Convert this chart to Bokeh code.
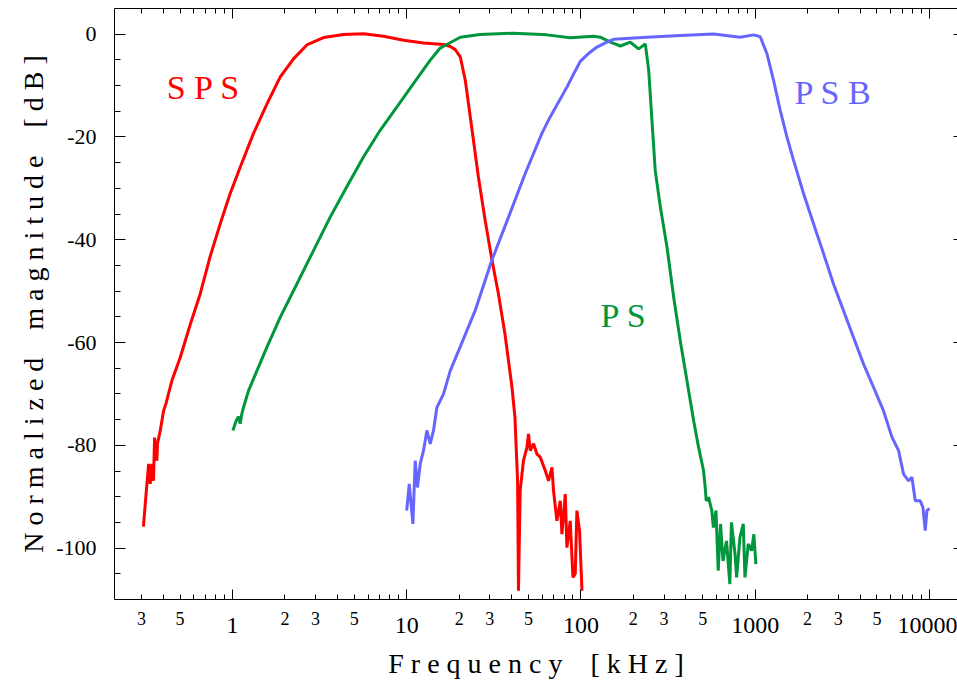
from bokeh.plotting import figure
from bokeh.models import Range1d, FixedTicker, LogAxis, LinearAxis, Label
from bokeh.embed import file_html
from bokeh.resources import INLINE

# ---- data (frequency in kHz, normalized magnitude in dB) ----
sps_freq = [0.308, 0.318, 0.330, 0.337, 0.345, 0.352, 0.357, 0.368, 0.371, 0.385,
            0.402, 0.415, 0.429, 0.449, 0.501, 0.572, 0.653, 0.745, 0.850, 0.970,
            1.107, 1.32, 1.58, 1.88, 2.24, 2.67, 3.33, 4.34, 5.65, 7.36,
            9.6, 12.5, 16.3, 17.8, 19.0, 20.3, 21.7, 23.6, 25.8, 28.2,
            30.8, 33.6, 36.7, 40.2, 41.8, 43.3, 43.8, 44.8, 46.8, 49.0,
            50.0, 51.2, 53.5, 55.9, 58.4, 62.4, 65.2, 68.2, 69.6, 72.8,
            76.1, 77.8, 81.3, 83.1, 86.8, 90.0, 92.8, 94.8, 98.2, 101.4]
sps_db = [-95.8, -90.1, -83.6, -87.5, -83.6, -86.9, -78.5, -83.0, -79.7, -77.1,
          -73.3, -71.9, -70.0, -67.4, -62.9, -56.5, -50.5, -43.2, -36.9, -31.0,
          -25.9, -19.3, -13.5, -8.3, -4.8, -2.1, -0.65, -0.05, 0.1, -0.4,
          -1.17, -1.7, -2.0, -2.4, -3.0, -4.4, -9.0, -18.1, -27.8, -36.2,
          -43.8, -50.5, -58.5, -68.7, -74.5, -86.9, -108.3, -88.8, -83.0, -80.4,
          -77.8, -81.0, -79.7, -81.7, -82.3, -84.9, -86.9, -84.3, -88.8, -94.7,
          -90.8, -97.3, -89.5, -99.9, -94.7, -105.7, -105.0, -92.7, -96.6, -108.3]

ps_freq = [1.005, 1.050, 1.082, 1.107, 1.129, 1.157, 1.235, 1.380, 1.576, 1.878,
           2.341, 2.917, 3.636, 4.530, 5.647, 7.04, 8.77, 10.93, 13.62, 15.56,
           16.99, 20.3, 26.3, 41.0, 63.7, 86.7, 118.4, 129, 147.5, 168.4,
           192, 214.5, 234.3, 244.9, 255.8, 267, 285.6, 311.9, 340.7, 371.6,
           406, 443.6, 473.6, 505.5, 517, 524, 540, 564, 576, 596,
           614, 633, 654, 685, 716, 731, 767, 783, 818, 855,
           874, 913, 954, 983, 1010]
ps_db = [-77.1, -75.2, -74.4, -75.8, -74.0, -72.6, -69.4, -65.5, -60.9, -55.1,
         -48.6, -42.1, -35.6, -29.7, -23.9, -18.7, -14.2, -9.6, -5.1, -2.7,
         -2.0, -0.6, -0.06, 0.2, -0.13, -0.7, -0.4, -0.58, -1.56, -2.3,
         -1.56, -2.86, -1.9, -7.0, -16.8, -26.5, -33.6, -41.4, -51.2, -59.6,
         -67.4, -75.2, -80.4, -84.9, -88.2, -90.8, -90.1, -92.7, -96.0, -92.7,
         -104.4, -95.3, -102.5, -98.6, -107.0, -95.0, -101.2, -105.7, -97.9, -95.3,
         -105.7, -99.2, -100.5, -97.3, -103.1]

psb_freq = [10.0, 10.34, 10.85, 11.19, 11.53, 11.95, 12.49, 13.06, 13.64, 14.25,
            14.91, 16.27, 17.77, 20.3, 24.7, 30.8, 38.4, 47.9, 59.7, 66.6,
            83.1, 90.6, 99.1, 112, 123.6, 140, 153.9, 239, 371.6, 577, 821, 979, 1070,
            1169, 1276, 1393, 1522, 1661, 1896, 2164, 2470, 2818, 3217,
            3672, 4192, 4783, 5458, 6100, 6658, 7112, 7598, 7946, 8300,
            8868, 9190, 9474, 9685, 10026]
psb_db = [-92.7, -87.5, -95.3, -83.0, -88.2, -83.6, -81.0, -77.1, -79.7, -77.1,
          -72.6, -70.0, -65.5, -60.8, -53.8, -44.0, -35.6, -27.1, -19.3, -16.1,
          -10.3, -7.8, -5.3, -3.6, -2.5, -1.6, -1.0, -0.58, -0.26, 0.06, -0.58, -0.13, -0.5,
          -3.8, -9.0, -14.8, -20.0, -24.5, -31.0, -36.9, -42.7, -48.6, -53.8,
          -59.0, -64.2, -68.7, -73.3, -78.4, -81.0, -85.6, -86.9, -86.2, -90.8,
          -90.8, -92.1, -96.6, -92.7, -92.3]

decade_ticks = [1, 10, 100, 1000, 10000]
decade_labels = ["1", "10", "100", "1000", "10000"]
minor_label_ticks = [0.3, 0.5, 2, 3, 5, 20, 30, 50, 200, 300, 500, 2000, 3000, 5000]
minor_label_text = ["3", "5", "2", "3", "5", "2", "3", "5", "2", "3", "5", "2", "3", "5"]
y_ticks = [0, -20, -40, -60, -80, -100]
y_labels = ["0", "-20", "-40", "-60", "-80", "-100"]

FONT = "Liberation Serif"
RED, GREEN, BLUE = "#ff0000", "#00963c", "#6666ff"
NB = "\u00a0"

x_minor = [k * 10.0 ** e for e in range(-1, 4) for k in range(2, 10) if k * 10.0 ** e > 0.21]
y_minor = [v for v in range(-105, 5, 5) if v % 20 != 0]

p = figure(width=957, height=685, x_axis_type="log",
           x_range=Range1d(0.2102, 14510), y_range=Range1d(-110, 5),
           output_backend="svg", toolbar_location=None,
           x_axis_location=None, y_axis_location=None,
           min_border_left=114, min_border_right=0, min_border_top=8, min_border_bottom=86)
p.outline_line_color = None
p.grid.visible = False
p.background_fill_color = "white"
p.border_fill_color = "white"

common = dict(major_tick_out=0, minor_tick_out=0, axis_line_color="black",
              major_tick_line_color="black", minor_tick_line_color="black",
              major_label_text_font=FONT, axis_label_text_font=FONT,
              major_label_text_color="black", axis_label_text_color="black",
              axis_label_text_font_style="normal")

# bottom axis: ticks + decade labels
xa = LogAxis(ticker=FixedTicker(ticks=decade_ticks, minor_ticks=x_minor),
             major_label_overrides={t: s for t, s in zip(decade_ticks, decade_labels)},
             major_tick_in=10, minor_tick_in=5, major_label_standoff=18,
             major_label_text_font_size="24px", **common)
p.add_layout(xa, "below")

# second bottom axis: 2/3/5 labels (no lines), plus title
xb = LogAxis(ticker=FixedTicker(ticks=minor_label_ticks, minor_ticks=[]),
             major_label_overrides={t: s for t, s in zip(minor_label_ticks, minor_label_text)},
             major_tick_in=0, minor_tick_in=0, major_label_standoff=-24,
             major_label_text_font_size="18px",
             axis_label="F r e q u e n c y " + NB + NB + " [ k H z ]", axis_label_standoff=20,
             axis_label_text_font_size="28px", **common)
xb.axis_line_color = None
xb.major_tick_line_color = None
xb.minor_tick_line_color = None
p.add_layout(xb, "below")

# top axis (ticks only)
xt = LogAxis(ticker=FixedTicker(ticks=decade_ticks, minor_ticks=x_minor),
             major_tick_in=10, minor_tick_in=5, major_label_standoff=0,
             major_label_text_font_size="1px", **common)
xt.major_label_text_color = None
p.add_layout(xt, "above")

# left axis
ya = LinearAxis(ticker=FixedTicker(ticks=y_ticks, minor_ticks=y_minor),
                major_label_overrides={t: s for t, s in zip(y_ticks, y_labels)},
                major_tick_in=11, minor_tick_in=6, major_label_standoff=18,
                major_label_text_font_size="22px",
                axis_label="N o r m a l i z e d " + NB + NB + " m a g n i t u d e " + NB + NB + " [ d B ]",
                axis_label_standoff=4, axis_label_text_font_size="28px", **common)
p.add_layout(ya, "left")

# right axis (short ticks only)
yr = LinearAxis(ticker=FixedTicker(ticks=y_ticks, minor_ticks=[]),
                major_tick_in=4, minor_tick_in=0, major_label_standoff=0,
                major_label_text_font_size="1px", **common)
yr.axis_line_color = None
yr.major_label_text_color = None
p.add_layout(yr, "right")

p.line(sps_freq, sps_db, line_color=RED, line_width=3)
p.line(ps_freq, ps_db, line_color=GREEN, line_width=3)
p.line(psb_freq, psb_db, line_color=BLUE, line_width=3)

for x, y, txt, col in [(0.682, -10.3, "S P S", RED),
                       (176, -54.7, "P S", GREEN),
                       (2806, -11.4, "P S B", BLUE)]:
    p.add_layout(Label(x=x, y=y, text=txt, text_color=col, text_font=FONT,
                       text_font_size="34px", text_align="center",
                       text_baseline="alphabetic"))

open("out.html", "w").write(file_html(p, INLINE))
